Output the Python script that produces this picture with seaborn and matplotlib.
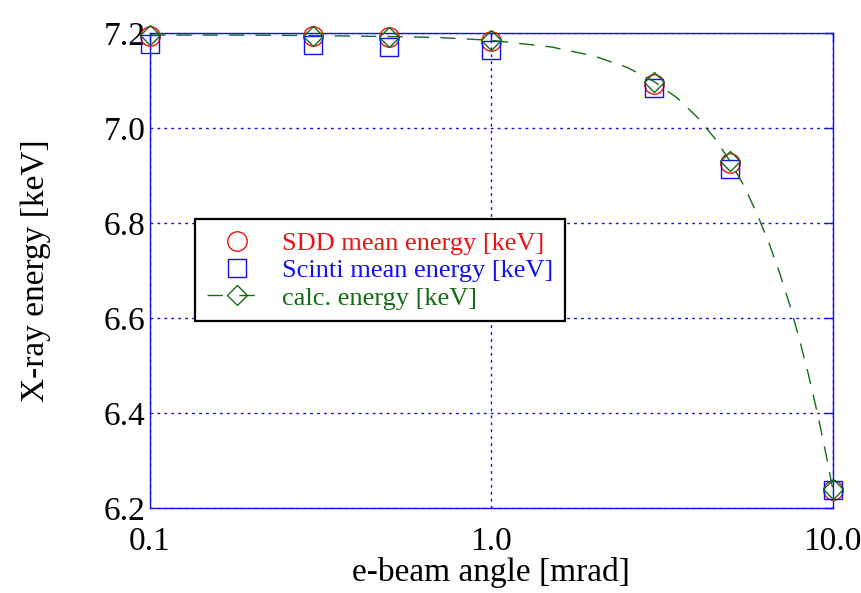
"""
X-ray energy vs e-beam angle (SDD / Scinti / calc.)
"""

import matplotlib
matplotlib.use('Agg')
import matplotlib.pyplot as plt
from matplotlib.lines import Line2D
from matplotlib.ticker import FixedLocator, NullLocator, FormatStrFormatter
import seaborn as sns

# Données
angle = [0.1, 0.3, 0.5, 1.0, 3.0, 5.0, 10.0]
sdd_energy = [7.194, 7.194, 7.191, 7.184, 7.093, 6.926, 6.238]
scinti_energy = [7.177, 7.175, 7.171, 7.164, 7.084, 6.915, 6.238]
calc_energy = [7.196, 7.195, 7.193, 7.185, 7.098, 6.931, 6.241]

# courbe calculée (pointillés)
curve_angle = [0.1, 0.2, 0.3, 0.5, 0.7, 1.0, 1.5, 2.0, 2.5, 3.0, 3.5, 4.0, 4.5,
               5.0, 5.5, 6.0, 6.5, 7.0, 7.5, 8.0, 8.5, 9.0, 9.5, 10.0]
curve_energy = [7.196, 7.196, 7.195, 7.193, 7.191, 7.185, 7.171, 7.152, 7.128,
                7.098, 7.064, 7.024, 6.980, 6.931, 6.878, 6.820, 6.759, 6.694,
                6.626, 6.554, 6.480, 6.403, 6.323, 6.241]

x_ticks = [0.1, 1.0, 10.0]
x_tick_labels = ['0.1', '1.0', '10.0']
y_ticks = [6.2, 6.4, 6.6, 6.8, 7.0, 7.2]

RED = '#ee1111'
BLUE = '#1111ee'
GREEN = '#136b13'

sns.set_theme(style='white')
plt.rcParams['font.family'] = ['Liberation Serif', 'DejaVu Serif']

fig, ax = plt.subplots(figsize=(8.62, 5.93), dpi=100)
fig.subplots_adjust(left=0.174, right=0.966, top=0.944, bottom=0.143)

sns.lineplot(x=angle, y=sdd_energy, ax=ax, marker='o', linestyle='',
             markersize=14, markerfacecolor='none', markeredgecolor=RED,
             markeredgewidth=1.0, color=RED, clip_on=False, zorder=3)
sns.lineplot(x=angle, y=scinti_energy, ax=ax, marker='s', linestyle='',
             markersize=13, markerfacecolor='none', markeredgecolor=BLUE,
             markeredgewidth=1.0, color=BLUE, clip_on=False, zorder=3)
sns.lineplot(x=angle, y=calc_energy, ax=ax, marker='D', linestyle='',
             markersize=10, markerfacecolor='none', markeredgecolor=GREEN,
             markeredgewidth=1.0, color=GREEN, clip_on=False, zorder=4)
sns.lineplot(x=curve_angle, y=curve_energy, ax=ax, color=GREEN,
             linewidth=1.0, dashes=(11, 8), zorder=4, clip_on=False)

ax.set_xscale('log')
ax.set_xlim(0.1, 10.0)
ax.set_ylim(6.2, 7.2)
ax.xaxis.set_major_locator(FixedLocator(x_ticks))
ax.xaxis.set_minor_locator(NullLocator())
ax.set_xticklabels(x_tick_labels)
ax.set_yticks(y_ticks)
ax.yaxis.set_major_formatter(FormatStrFormatter('%.1f'))

ax.grid(True, color=BLUE, linestyle=(0, (2, 3)), linewidth=1.0)
for s in ax.spines.values():
    s.set_color(BLUE)
    s.set_linewidth(1.0)
ax.tick_params(axis='both', which='major', direction='in', length=6,
               width=1.0, color=BLUE, top=True, right=True,
               labelsize=24, labelcolor='black')
ax.tick_params(axis='x', pad=13)
ax.tick_params(axis='y', pad=3)

ax.set_xlabel('e-beam angle [mrad]', fontsize=24, color='black', labelpad=0)
ax.set_ylabel('X-ray energy [keV]', fontsize=24, color='black', labelpad=38)

handles = [
    Line2D([], [], marker='o', linestyle='', markersize=14,
           markerfacecolor='none', markeredgecolor=RED, markeredgewidth=1.0),
    Line2D([], [], marker='s', linestyle='', markersize=13,
           markerfacecolor='none', markeredgecolor=BLUE, markeredgewidth=1.0),
    Line2D([], [], marker='D', linestyle=(0, (11, 12)), markersize=10,
           color=GREEN, markerfacecolor='none', markeredgecolor=GREEN,
           linewidth=1.0),
]
labels = ['SDD mean energy [keV]', 'Scinti mean energy [keV]',
          'calc. energy [keV]']
leg = ax.legend(handles, labels, loc='upper left',
                bbox_to_anchor=(0.066, 0.608), fontsize=19, frameon=True,
                fancybox=False, framealpha=1, edgecolor='black',
                borderpad=0.45, labelspacing=0.15, handlelength=2.3,
                handletextpad=0.55, borderaxespad=0)
leg.get_frame().set_linewidth(1.6)
for txt, c in zip(leg.get_texts(), [RED, BLUE, GREEN]):
    txt.set_color(c)

plt.savefig('out.png', dpi=100)
plt.close()
